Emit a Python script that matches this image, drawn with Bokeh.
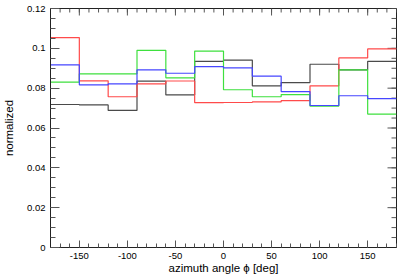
import math
from bokeh.plotting import figure
from bokeh.models import FixedTicker, Range1d
from bokeh.embed import file_html
from bokeh.resources import INLINE

# bin edges (deg) and normalized contents per series
edges = [-180, -150, -120, -90, -60, -30, 0, 30, 60, 90, 120, 150, 180]
black = [0.0718, 0.0716, 0.0688, 0.0835, 0.0766, 0.0935, 0.0941, 0.0812, 0.0828, 0.0920, 0.0892, 0.0935]
red = [0.1054, 0.0837, 0.0757, 0.0822, 0.0836, 0.0727, 0.0728, 0.0731, 0.0737, 0.0812, 0.0952, 0.0997]
green = [0.0830, 0.0872, 0.0872, 0.0990, 0.0852, 0.0986, 0.0792, 0.0757, 0.0768, 0.0710, 0.0892, 0.0670]
blue = [0.0917, 0.0817, 0.0822, 0.0892, 0.0875, 0.0908, 0.0902, 0.0860, 0.0783, 0.0713, 0.0762, 0.0747]

X_MIN, X_MAX = -180, 180
Y_MIN, Y_MAX = 0, 0.12
x_ticks = [-150, -100, -50, 0, 50, 100, 150]
x_tick_labels = ["-150", "-100", "-50", "0", "50", "100", "150"]
x_minor = list(range(-180, 181, 10))
y_ticks = [0, 0.02, 0.04, 0.06, 0.08, 0.1, 0.12]
y_tick_labels = ["0", "0.02", "0.04", "0.06", "0.08", "0.1", "0.12"]
y_minor = [round(i * 0.005, 3) for i in range(0, 25)]
x_title = "azimuth angle ϕ [deg]"
y_title = "normalized"

FONT = "Liberation Sans"
TICK_COL = "#555555"

p = figure(frame_width=346, frame_height=239, output_backend="svg", toolbar_location=None,
           x_range=Range1d(X_MIN, X_MAX), y_range=Range1d(Y_MIN, Y_MAX),
           min_border_left=48, min_border_right=7, min_border_top=8, min_border_bottom=0,
           background_fill_color="white", border_fill_color="white")
p.xgrid.visible = False
p.ygrid.visible = False
p.outline_line_color = "#222222"


def style(ax, major_len, minor_len):
    ax.axis_line_color = "#222222"
    ax.major_tick_line_color = TICK_COL
    ax.minor_tick_line_color = TICK_COL
    ax.major_tick_out = 0
    ax.minor_tick_out = 0
    ax.major_tick_in = major_len
    ax.minor_tick_in = minor_len
    ax.major_label_text_font = FONT
    ax.major_label_text_color = "black"
    ax.major_label_text_font_size = "9.5px"
    ax.axis_label_text_font = FONT
    ax.axis_label_text_font_style = "normal"
    ax.axis_label_text_color = "black"
    ax.axis_label_text_font_size = "11.5px"


xa = p.xaxis[0]
xa.ticker = FixedTicker(ticks=x_ticks, minor_ticks=x_minor)
xa.major_label_overrides = dict(zip(x_ticks, x_tick_labels))
style(xa, 7, 4)
xa.major_label_standoff = 5
xa.axis_label = x_title
xa.axis_label_standoff = 0

ya = p.yaxis[0]
ya.ticker = FixedTicker(ticks=y_ticks, minor_ticks=y_minor)
ya.major_label_overrides = dict(zip(y_ticks, y_tick_labels))
style(ya, 9, 5)
ya.major_label_standoff = 5
ya.axis_label = y_title
ya.axis_label_standoff = 9

# tick marks on the top and right frame edges
p.ray(x=x_ticks, y=Y_MAX, length=7, length_units="screen", angle=-math.pi / 2,
      line_color=TICK_COL, line_width=1)
p.ray(x=x_minor, y=Y_MAX, length=4, length_units="screen", angle=-math.pi / 2,
      line_color=TICK_COL, line_width=1)
p.ray(x=X_MAX, y=y_ticks, length=9, length_units="screen", angle=math.pi,
      line_color=TICK_COL, line_width=1)
p.ray(x=X_MAX, y=y_minor, length=5, length_units="screen", angle=math.pi,
      line_color=TICK_COL, line_width=1)

series = [(black, "#4a4a4a"), (red, "#ff4a4a"), (green, "#3ee03e"), (blue, "#4646ff")]
for vals, col in series:
    p.step(x=edges, y=vals + [vals[-1]], mode="after", line_color=col, line_width=1.2)

open("out.html", "w").write(file_html(p, INLINE))
